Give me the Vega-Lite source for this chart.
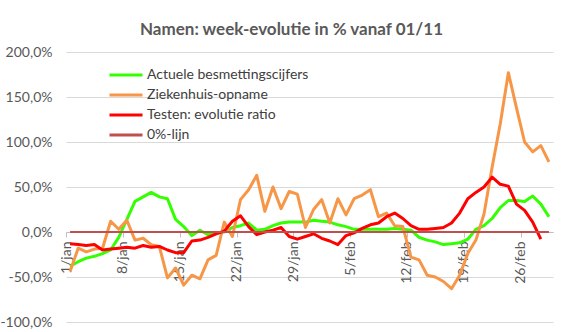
{
  "$schema": "https://vega.github.io/schema/vega-lite/v6.json",
  "width": 487,
  "height": 270,
  "autosize": {"type": "none"},
  "padding": {"left": 66, "top": 52, "right": 30, "bottom": 10},
  "background": "white",
  "title": {"text": "Namen: week-evolutie in % vanaf 01/11", "font": "Lato", "fontSize": 17, "fontWeight": "bold", "color": "#595959", "anchor": "middle", "dx": -18, "offset": 12, "dy": 6},
  "data": {"values": [
    {"datum": "2021-01-01", "Actuele besmettingscijfers": -38, "Ziekenhuis-opname": -44, "Testen: evolutie ratio": -13, "0%-lijn": 0},
    {"datum": "2021-01-02", "Actuele besmettingscijfers": -33, "Ziekenhuis-opname": -18, "Testen: evolutie ratio": -14, "0%-lijn": 0},
    {"datum": "2021-01-03", "Actuele besmettingscijfers": -29, "Ziekenhuis-opname": -22, "Testen: evolutie ratio": -15, "0%-lijn": 0},
    {"datum": "2021-01-04", "Actuele besmettingscijfers": -27, "Ziekenhuis-opname": -19, "Testen: evolutie ratio": -14, "0%-lijn": 0},
    {"datum": "2021-01-05", "Actuele besmettingscijfers": -24, "Ziekenhuis-opname": -18, "Testen: evolutie ratio": -20, "0%-lijn": 0},
    {"datum": "2021-01-06", "Actuele besmettingscijfers": -20, "Ziekenhuis-opname": 12, "Testen: evolutie ratio": -19, "0%-lijn": 0},
    {"datum": "2021-01-07", "Actuele besmettingscijfers": -6, "Ziekenhuis-opname": 3, "Testen: evolutie ratio": -18, "0%-lijn": 0},
    {"datum": "2021-01-08", "Actuele besmettingscijfers": 14, "Ziekenhuis-opname": 13, "Testen: evolutie ratio": -17, "0%-lijn": 0},
    {"datum": "2021-01-09", "Actuele besmettingscijfers": 34, "Ziekenhuis-opname": -9, "Testen: evolutie ratio": -18, "0%-lijn": 0},
    {"datum": "2021-01-10", "Actuele besmettingscijfers": 39, "Ziekenhuis-opname": -7, "Testen: evolutie ratio": -15, "0%-lijn": 0},
    {"datum": "2021-01-11", "Actuele besmettingscijfers": 44, "Ziekenhuis-opname": -14, "Testen: evolutie ratio": -17, "0%-lijn": 0},
    {"datum": "2021-01-12", "Actuele besmettingscijfers": 39, "Ziekenhuis-opname": -16, "Testen: evolutie ratio": -16, "0%-lijn": 0},
    {"datum": "2021-01-13", "Actuele besmettingscijfers": 37, "Ziekenhuis-opname": -51, "Testen: evolutie ratio": -20, "0%-lijn": 0},
    {"datum": "2021-01-14", "Actuele besmettingscijfers": 14, "Ziekenhuis-opname": -40, "Testen: evolutie ratio": -23, "0%-lijn": 0},
    {"datum": "2021-01-15", "Actuele besmettingscijfers": 6, "Ziekenhuis-opname": -59, "Testen: evolutie ratio": -23, "0%-lijn": 0},
    {"datum": "2021-01-16", "Actuele besmettingscijfers": -4, "Ziekenhuis-opname": -48, "Testen: evolutie ratio": -10, "0%-lijn": 0},
    {"datum": "2021-01-17", "Actuele besmettingscijfers": 2, "Ziekenhuis-opname": -52, "Testen: evolutie ratio": -9, "0%-lijn": 0},
    {"datum": "2021-01-18", "Actuele besmettingscijfers": -3, "Ziekenhuis-opname": -31, "Testen: evolutie ratio": -6, "0%-lijn": 0},
    {"datum": "2021-01-19", "Actuele besmettingscijfers": -1, "Ziekenhuis-opname": -26, "Testen: evolutie ratio": -2, "0%-lijn": 0},
    {"datum": "2021-01-20", "Actuele besmettingscijfers": 0, "Ziekenhuis-opname": 11, "Testen: evolutie ratio": 1, "0%-lijn": 0},
    {"datum": "2021-01-21", "Actuele besmettingscijfers": 5, "Ziekenhuis-opname": -5, "Testen: evolutie ratio": 12, "0%-lijn": 0},
    {"datum": "2021-01-22", "Actuele besmettingscijfers": 7, "Ziekenhuis-opname": 36, "Testen: evolutie ratio": 18, "0%-lijn": 0},
    {"datum": "2021-01-23", "Actuele besmettingscijfers": 10, "Ziekenhuis-opname": 47, "Testen: evolutie ratio": 6, "0%-lijn": 0},
    {"datum": "2021-01-24", "Actuele besmettingscijfers": 2, "Ziekenhuis-opname": 63, "Testen: evolutie ratio": -3, "0%-lijn": 0},
    {"datum": "2021-01-25", "Actuele besmettingscijfers": 3, "Ziekenhuis-opname": 23, "Testen: evolutie ratio": 0, "0%-lijn": 0},
    {"datum": "2021-01-26", "Actuele besmettingscijfers": 7, "Ziekenhuis-opname": 50, "Testen: evolutie ratio": 2, "0%-lijn": 0},
    {"datum": "2021-01-27", "Actuele besmettingscijfers": 10, "Ziekenhuis-opname": 26, "Testen: evolutie ratio": 5, "0%-lijn": 0},
    {"datum": "2021-01-28", "Actuele besmettingscijfers": 11, "Ziekenhuis-opname": 45, "Testen: evolutie ratio": -5, "0%-lijn": 0},
    {"datum": "2021-01-29", "Actuele besmettingscijfers": 11, "Ziekenhuis-opname": 42, "Testen: evolutie ratio": -8, "0%-lijn": 0},
    {"datum": "2021-01-30", "Actuele besmettingscijfers": 11, "Ziekenhuis-opname": 5, "Testen: evolutie ratio": -5, "0%-lijn": 0},
    {"datum": "2021-01-31", "Actuele besmettingscijfers": 13, "Ziekenhuis-opname": 25, "Testen: evolutie ratio": -2, "0%-lijn": 0},
    {"datum": "2021-02-01", "Actuele besmettingscijfers": 12, "Ziekenhuis-opname": 36, "Testen: evolutie ratio": -7, "0%-lijn": 0},
    {"datum": "2021-02-02", "Actuele besmettingscijfers": 11, "Ziekenhuis-opname": 10, "Testen: evolutie ratio": -10, "0%-lijn": 0},
    {"datum": "2021-02-03", "Actuele besmettingscijfers": 8, "Ziekenhuis-opname": 37, "Testen: evolutie ratio": -14, "0%-lijn": 0},
    {"datum": "2021-02-04", "Actuele besmettingscijfers": 6, "Ziekenhuis-opname": 19, "Testen: evolutie ratio": -4, "0%-lijn": 0},
    {"datum": "2021-02-05", "Actuele besmettingscijfers": 3, "Ziekenhuis-opname": 37, "Testen: evolutie ratio": -1, "0%-lijn": 0},
    {"datum": "2021-02-06", "Actuele besmettingscijfers": 3, "Ziekenhuis-opname": 41, "Testen: evolutie ratio": 4, "0%-lijn": 0},
    {"datum": "2021-02-07", "Actuele besmettingscijfers": 3, "Ziekenhuis-opname": 47, "Testen: evolutie ratio": 8, "0%-lijn": 0},
    {"datum": "2021-02-08", "Actuele besmettingscijfers": 3, "Ziekenhuis-opname": 17, "Testen: evolutie ratio": 10, "0%-lijn": 0},
    {"datum": "2021-02-09", "Actuele besmettingscijfers": 3, "Ziekenhuis-opname": 21, "Testen: evolutie ratio": 17, "0%-lijn": 0},
    {"datum": "2021-02-10", "Actuele besmettingscijfers": 4, "Ziekenhuis-opname": 7, "Testen: evolutie ratio": 21, "0%-lijn": 0},
    {"datum": "2021-02-11", "Actuele besmettingscijfers": 3, "Ziekenhuis-opname": 6, "Testen: evolutie ratio": 15, "0%-lijn": 0},
    {"datum": "2021-02-12", "Actuele besmettingscijfers": 2, "Ziekenhuis-opname": -28, "Testen: evolutie ratio": 7, "0%-lijn": 0},
    {"datum": "2021-02-13", "Actuele besmettingscijfers": -6, "Ziekenhuis-opname": -31, "Testen: evolutie ratio": 3, "0%-lijn": 0},
    {"datum": "2021-02-14", "Actuele besmettingscijfers": -9, "Ziekenhuis-opname": -48, "Testen: evolutie ratio": 3, "0%-lijn": 0},
    {"datum": "2021-02-15", "Actuele besmettingscijfers": -11, "Ziekenhuis-opname": -50, "Testen: evolutie ratio": 4, "0%-lijn": 0},
    {"datum": "2021-02-16", "Actuele besmettingscijfers": -14, "Ziekenhuis-opname": -55, "Testen: evolutie ratio": 5, "0%-lijn": 0},
    {"datum": "2021-02-17", "Actuele besmettingscijfers": -13, "Ziekenhuis-opname": -63, "Testen: evolutie ratio": 10, "0%-lijn": 0},
    {"datum": "2021-02-18", "Actuele besmettingscijfers": -12, "Ziekenhuis-opname": -48, "Testen: evolutie ratio": 21, "0%-lijn": 0},
    {"datum": "2021-02-19", "Actuele besmettingscijfers": -8, "Ziekenhuis-opname": -24, "Testen: evolutie ratio": 37, "0%-lijn": 0},
    {"datum": "2021-02-20", "Actuele besmettingscijfers": 3, "Ziekenhuis-opname": -9, "Testen: evolutie ratio": 44, "0%-lijn": 0},
    {"datum": "2021-02-21", "Actuele besmettingscijfers": 7, "Ziekenhuis-opname": 20, "Testen: evolutie ratio": 50, "0%-lijn": 0},
    {"datum": "2021-02-22", "Actuele besmettingscijfers": 15, "Ziekenhuis-opname": 72, "Testen: evolutie ratio": 61, "0%-lijn": 0},
    {"datum": "2021-02-23", "Actuele besmettingscijfers": 27, "Ziekenhuis-opname": 120, "Testen: evolutie ratio": 53, "0%-lijn": 0},
    {"datum": "2021-02-24", "Actuele besmettingscijfers": 35, "Ziekenhuis-opname": 177, "Testen: evolutie ratio": 51, "0%-lijn": 0},
    {"datum": "2021-02-25", "Actuele besmettingscijfers": 35, "Ziekenhuis-opname": 138, "Testen: evolutie ratio": 31, "0%-lijn": 0},
    {"datum": "2021-02-26", "Actuele besmettingscijfers": 34, "Ziekenhuis-opname": 100, "Testen: evolutie ratio": 24, "0%-lijn": 0},
    {"datum": "2021-02-27", "Actuele besmettingscijfers": 40, "Ziekenhuis-opname": 89, "Testen: evolutie ratio": 11, "0%-lijn": 0},
    {"datum": "2021-02-28", "Actuele besmettingscijfers": 31, "Ziekenhuis-opname": 96, "Testen: evolutie ratio": -8, "0%-lijn": 0},
    {"datum": "2021-03-01", "Actuele besmettingscijfers": 17, "Ziekenhuis-opname": 78, "0%-lijn": 0}
  ]},
  "transform": [
    {"fold": ["Actuele besmettingscijfers", "Ziekenhuis-opname", "Testen: evolutie ratio", "0%-lijn"], "as": ["reeks", "waarde"]}
  ],
  "mark": {"type": "line", "strokeJoin": "round", "strokeCap": "butt"},
  "encoding": {
    "x": {
      "field": "datum", "type": "temporal",
      "scale": {"type": "utc", "domain": [
        {"year": 2020, "month": 12, "date": 31, "hours": 12, "utc": true},
        {"year": 2021, "month": 3, "date": 1, "hours": 12, "utc": true}
      ]},
      "axis": {
        "title": null, "offset": -90, "grid": false,
        "values": [
          {"year": 2021, "month": 1, "date": 1, "utc": true},
          {"year": 2021, "month": 1, "date": 8, "utc": true},
          {"year": 2021, "month": 1, "date": 15, "utc": true},
          {"year": 2021, "month": 1, "date": 22, "utc": true},
          {"year": 2021, "month": 1, "date": 29, "utc": true},
          {"year": 2021, "month": 2, "date": 5, "utc": true},
          {"year": 2021, "month": 2, "date": 12, "utc": true},
          {"year": 2021, "month": 2, "date": 19, "utc": true},
          {"year": 2021, "month": 2, "date": 26, "utc": true}
        ],
        "labelExpr": "utcFormat(datum.value, '%-d') + '/' + lower(utcFormat(datum.value, '%b'))",
        "labelAngle": -90, "labelFont": "Lato", "labelFontSize": 14, "labelColor": "#595959",
        "labelPadding": 4, "labelOverlap": false, "labelFlush": false, "labelBound": false,
        "tickColor": "#BFBFBF", "tickSize": 5, "tickOffset": -4, "domainColor": "#BFBFBF"
      }
    },
    "y": {
      "field": "waarde", "type": "quantitative",
      "scale": {"domain": [-100, 200], "nice": false, "zero": false},
      "axis": {
        "title": null, "values": [-100, -50, 0, 50, 100, 150, 200],
        "labelExpr": "(datum.value < 0 ? '-' : '') + replace(format(abs(datum.value), '.1f'), '.', ',') + '%'",
        "grid": true, "gridColor": "#D9D9D9", "gridWidth": 1, "domain": false, "ticks": false,
        "labelPadding": 14, "labelFont": "Lato", "labelFontSize": 14, "labelColor": "#595959"
      }
    },
    "color": {
      "field": "reeks", "type": "nominal",
      "scale": {
        "domain": ["Actuele besmettingscijfers", "Ziekenhuis-opname", "Testen: evolutie ratio", "0%-lijn"],
        "range": ["#33FF00", "#F79646", "#FF0000", "#C0504D"]
      },
      "legend": {
        "title": null, "orient": "none", "legendX": 42, "legendY": 16, "padding": 0,
        "symbolType": "stroke", "symbolSize": 1089, "symbolStrokeWidth": 3,
        "clipHeight": 14, "rowPadding": 6, "labelOffset": 3, "labelLimit": 400,
        "labelFont": "Lato", "labelFontSize": 14, "labelColor": "#404040"
      }
    },
    "strokeWidth": {"condition": {"test": "datum.reeks === '0%-lijn'", "value": 2}, "value": 3}
  },
  "config": {"view": {"stroke": null}}
}
